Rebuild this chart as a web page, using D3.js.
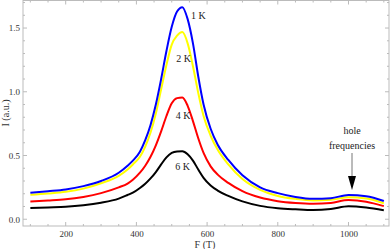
<!DOCTYPE html>
<html><head><meta charset="utf-8">
<script src="https://cdn.jsdelivr.net/npm/d3@7"></script>
<style>body{margin:0;background:#fff}svg{display:block}</style>
</head><body>
<script>
const freqs = [100,150,200,250,300,350,375,390,410,425,440,455,470,485,500,515,530,545,560,575,590,610,630,660,700,750,800,850,900,950,1000,1050,1100];
const i1K = [0.208,0.22,0.234,0.26,0.30,0.365,0.42,0.46,0.53,0.62,0.74,0.90,1.10,1.32,1.51,1.63,1.664,1.57,1.38,1.12,0.90,0.71,0.585,0.465,0.345,0.25,0.205,0.175,0.16,0.165,0.19,0.18,0.143];
const i2K = [0.192,0.202,0.215,0.24,0.282,0.34,0.39,0.43,0.49,0.57,0.68,0.83,1.02,1.21,1.37,1.44,1.468,1.38,1.20,0.99,0.81,0.655,0.545,0.43,0.315,0.23,0.183,0.16,0.148,0.152,0.172,0.162,0.125];
const i4K = [0.14,0.147,0.156,0.175,0.205,0.25,0.28,0.31,0.365,0.42,0.49,0.58,0.69,0.81,0.91,0.95,0.955,0.89,0.77,0.635,0.52,0.415,0.35,0.285,0.22,0.17,0.142,0.128,0.122,0.128,0.15,0.138,0.103];
const i6K = [0.088,0.093,0.098,0.11,0.13,0.162,0.19,0.208,0.245,0.278,0.32,0.37,0.43,0.485,0.52,0.532,0.534,0.51,0.46,0.39,0.325,0.265,0.225,0.183,0.14,0.105,0.087,0.078,0.072,0.08,0.102,0.092,0.07];
const seriesNames = ["1 K","2 K","4 K","6 K"];
const seriesColors = ["#0000ff","#ffff00","#ff0000","#000000"];
const xTicks = [200,400,600,800,1000];
const yTicks = [0.0,0.5,1.0,1.5];

const W=390,H=249;
const L=23,R=389,T=0.5,B=226;
const x = d3.scaleLinear().domain([79.2,1114.6]).range([L,R]);
const y = d3.scaleLinear().domain([-0.053,1.716]).range([B,T]);

const svg = d3.select("body").append("svg").attr("width",W).attr("height",H);
const font = "'Liberation Serif','Times New Roman',serif";

svg.append("rect").attr("x",L).attr("y",T).attr("width",R-L).attr("height",B-T)
  .attr("fill","none").attr("stroke","#bbb").attr("stroke-width",1);

const g = svg.append("g");
const xMinor = d3.range(100,1101,50);
const yMinor = d3.range(0,1.71,0.1);
xMinor.forEach(v=>{
  const maj = v%200===0; const len = maj?4:2;
  g.append("line").attr("x1",x(v)).attr("x2",x(v)).attr("y1",B).attr("y2",B-len).attr("stroke","#bbb");
  g.append("line").attr("x1",x(v)).attr("x2",x(v)).attr("y1",T).attr("y2",T+len).attr("stroke","#bbb");
});
yMinor.forEach(v=>{
  const maj = Math.abs(v*2-Math.round(v*2))<1e-6; const len = maj?4:2;
  g.append("line").attr("x1",L).attr("x2",L+len).attr("y1",y(v)).attr("y2",y(v)).attr("stroke","#bbb");
  g.append("line").attr("x1",R).attr("x2",R-len).attr("y1",y(v)).attr("y2",y(v)).attr("stroke","#bbb");
});
const xAxis = d3.axisBottom(x).tickValues(xTicks).tickSize(0).tickPadding(5).tickFormat(d3.format("d"));
const xg = svg.append("g").attr("transform",`translate(0,${B})`).call(xAxis);
xg.select(".domain").remove();
xg.selectAll("text").attr("font-family",font).attr("font-size",9).attr("fill","#333");
const yAxis = d3.axisLeft(y).tickValues(yTicks).tickSize(0).tickPadding(3).tickFormat(d3.format(".1f"));
const yg = svg.append("g").attr("transform",`translate(${L},0)`).call(yAxis);
yg.select(".domain").remove();
yg.selectAll("text").attr("font-family",font).attr("font-size",9).attr("fill","#333");

const allSeries = [i1K,i2K,i4K,i6K];
const line = d3.line().x((d,i)=>x(freqs[i])).y(d=>y(d)).curve(d3.curveMonotoneX);
[3,2,1,0].forEach(k=>{
  svg.append("path").datum(allSeries[k]).attr("d",line).attr("fill","none")
    .attr("stroke",seriesColors[k]).attr("stroke-width",2);
});

const labelPos = [[191,19,"start"],[183.5,62,"middle"],[183,119,"middle"],[182.5,170,"middle"]];
seriesNames.forEach((n,k)=>{
  svg.append("text").attr("x",labelPos[k][0]).attr("y",labelPos[k][1]).attr("text-anchor",labelPos[k][2])
    .attr("font-family",font).attr("font-size",10).attr("fill","#222").text(n);
});

svg.append("text").attr("x",352).attr("y",134).attr("text-anchor","middle").attr("font-family",font).attr("font-size",10).attr("fill","#222").text("hole");
svg.append("text").attr("x",352).attr("y",149).attr("text-anchor","middle").attr("font-family",font).attr("font-size",10).attr("fill","#222").text("frequencies");
svg.append("line").attr("x1",352).attr("x2",352).attr("y1",153).attr("y2",178).attr("stroke","#777").attr("stroke-width",1);
svg.append("path").attr("d","M348,176 L356,176 L352,190 Z").attr("fill","#000");

svg.append("text").attr("x",205).attr("y",248).attr("text-anchor","middle").attr("font-family",font).attr("font-size",10).attr("fill","#333").text("F (T)");
svg.append("text").attr("transform","translate(9,113) rotate(-90)").attr("text-anchor","middle").attr("font-family",font).attr("font-size",10).attr("fill","#333").text("I (a.u.)");
</script>
</body></html>
